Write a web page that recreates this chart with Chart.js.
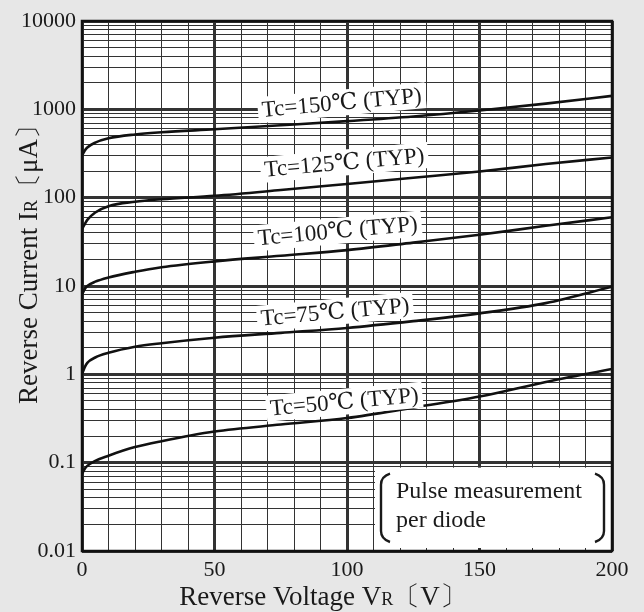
<!DOCTYPE html>
<html>
<head>
<meta charset="utf-8">
<script src="https://cdn.jsdelivr.net/npm/chart.js@4.4.1/dist/chart.umd.min.js"></script>
<style>
html, body { margin: 0; padding: 0; background: #e7e7e7; }
#wrap { width: 644px; height: 612px; position: relative; }
</style>
</head>
<body>
<div id="wrap"><canvas id="chart"></canvas></div>
<script>
// reverse voltage (V) sample points, shared by all curves
const voltages   = [0, 1, 2, 5, 10, 20, 30, 50, 75, 100, 125, 150, 175, 200];
// reverse current (uA)
const current150 = [300, 340, 370, 420, 470, 520, 550, 595, 660, 735, 830, 970, 1160, 1420];
const current125 = [44, 50, 56, 68, 80, 90, 96, 105, 122, 143, 168, 198, 240, 285];
const current100 = [8, 9.2, 10, 11.2, 12.5, 14.5, 16.3, 19, 22, 25.5, 31, 38, 48, 60];
const current75  = [1.0, 1.2, 1.35, 1.55, 1.75, 2.05, 2.25, 2.6, 2.95, 3.35, 4.0, 4.9, 6.4, 9.8];
const current50  = [0.075, 0.085, 0.092, 0.105, 0.12, 0.15, 0.175, 0.225, 0.27, 0.32, 0.42, 0.56, 0.82, 1.15];

const seriesNames = ['Tc=150℃ (TYP)', 'Tc=125℃ (TYP)', 'Tc=100℃ (TYP)', 'Tc=75℃ (TYP)', 'Tc=50℃ (TYP)'];
const seriesData  = [current150, current125, current100, current75, current50];

// where each curve name sits (V, uA)
const nameAtV  = [98, 99, 96.5, 95.5, 99];
const nameAtUA = [1190, 250, 42, 5.1, 0.49];

const yDecades    = [0.01, 0.1, 1, 10, 100, 1000, 10000];
const yTickLabels = ['0.01', '0.1', '1', '10', '100', '1000', '10000'];
const xMajorTicks = [0, 50, 100, 150, 200];
const noteLines   = ['Pulse measurement', 'per diode'];

const SERIF = '"Liberation Serif", "DejaVu Serif", serif';
const INK = '#1a1a1a';

function isDecade(v)
{
	const l = Math.log10(v);
	return Math.abs(l - Math.round(l)) < 1e-6;
}

function drawRuns(ctx, runs, x, y)
{
	let total = 0;
	runs.forEach(r => {
		ctx.font = r.size + 'px ' + SERIF;
		r.w = ctx.measureText(r.text).width;
		total += r.w;
	});
	let cx = x - total / 2;
	ctx.textAlign = 'left';
	ctx.textBaseline = 'alphabetic';
	runs.forEach(r => {
		ctx.font = r.size + 'px ' + SERIF;
		ctx.fillText(r.text, cx, y);
		cx += r.w;
	});
}

const frame = {
	id: 'frame',
	beforeDraw(chart)
	{
		const { ctx, chartArea: a } = chart;
		ctx.save();
		ctx.fillStyle = '#e7e7e7';
		ctx.fillRect(0, 0, chart.width, chart.height);
		ctx.fillStyle = '#ffffff';
		ctx.fillRect(a.left, a.top, a.right - a.left, a.bottom - a.top);
		ctx.restore();
	},
	afterDatasetsDraw(chart)
	{
		const { ctx, chartArea: a } = chart;
		const xs = chart.scales.x, ys = chart.scales.y;
		ctx.save();

		// curve names on white patches
		ctx.font = '23px ' + SERIF;
		ctx.textAlign = 'center';
		ctx.textBaseline = 'middle';
		seriesNames.forEach((name, i) => {
			const px = xs.getPixelForValue(nameAtV[i]);
			const py = ys.getPixelForValue(nameAtUA[i]);
			const w = ctx.measureText(name).width;
			ctx.save();
			ctx.translate(px, py);
			ctx.rotate(-0.09);
			ctx.fillStyle = '#ffffff';
			ctx.fillRect(-w / 2 - 4, -13, w + 8, 26);
			ctx.fillStyle = INK;
			ctx.fillText(name, 0, 1);
			ctx.restore();
		});

		// measurement note box
		const bx0 = xs.getPixelForValue(110) + 1.5;
		const bx1 = a.right - 1;
		const by0 = ys.getPixelForValue(0.1) + 5;
		const by1 = ys.getPixelForValue(0.01) - 3;
		ctx.fillStyle = '#ffffff';
		ctx.fillRect(bx0, by0, bx1 - bx0, by1 - by0);

		ctx.strokeStyle = INK;
		ctx.lineWidth = 2.4;
		const t = by0 + 6, b = by1 - 6;
		const lx = bx0 + 6, rx = bx1 - 7;
		ctx.beginPath();
		ctx.moveTo(lx + 9, t);
		ctx.quadraticCurveTo(lx, t + 3, lx, t + 11);
		ctx.lineTo(lx, b - 11);
		ctx.quadraticCurveTo(lx, b - 3, lx + 9, b);
		ctx.moveTo(rx - 9, t);
		ctx.quadraticCurveTo(rx, t + 3, rx, t + 11);
		ctx.lineTo(rx, b - 11);
		ctx.quadraticCurveTo(rx, b - 3, rx - 9, b);
		ctx.stroke();

		ctx.fillStyle = INK;
		ctx.font = '24px ' + SERIF;
		ctx.textAlign = 'left';
		ctx.textBaseline = 'middle';
		ctx.fillText(noteLines[0], lx + 15, by0 + 24);
		ctx.fillText(noteLines[1], lx + 15, by0 + 53);

		// plot border
		ctx.lineWidth = 2.5;
		ctx.strokeStyle = '#111';
		ctx.strokeRect(a.left, a.top, a.right - a.left, a.bottom - a.top);
		ctx.restore();
	},
	afterDraw(chart)
	{
		const ctx = chart.ctx;
		ctx.save();
		ctx.fillStyle = INK;
		drawRuns(ctx, [
			{ text: 'Reverse Voltage V', size: 27 },
			{ text: 'R', size: 18 },
			{ text: '〔V〕', size: 27 }
		], 323, 605);
		ctx.translate(37, 258);
		ctx.rotate(-Math.PI / 2);
		drawRuns(ctx, [
			{ text: 'Reverse Current I', size: 27 },
			{ text: 'R', size: 18 },
			{ text: '〔μA〕', size: 27 }
		], 0, 0);
		ctx.restore();
	}
};

const datasets = seriesData.map((vals, i) => ({
	label: seriesNames[i],
	data: voltages.map((v, k) => ({ x: v, y: vals[k] })),
	borderColor: '#111',
	borderWidth: 2.6,
	pointRadius: 0,
	fill: false,
	cubicInterpolationMode: 'monotone'
}));

new Chart(document.getElementById('chart'), {
	type: 'line',
	data: { datasets: datasets },
	plugins: [frame],
	options: {
		responsive: true,
		maintainAspectRatio: false,
		animation: false,
		layout: { padding: { left: 0, top: 21, right: 32, bottom: 0 } },
		plugins: {
			legend: { display: false },
			tooltip: { enabled: false }
		},
		scales: {
			x: {
				type: 'linear',
				min: 0,
				max: 200,
				afterFit: (s) => { s.height = 61; },
				ticks: {
					stepSize: 10,
					autoSkip: false,
					maxRotation: 0,
					padding: 6,
					color: INK,
					font: { family: SERIF, size: 22 },
					callback: (v) => xMajorTicks.includes(v) ? String(v) : ''
				},
				grid: {
					drawTicks: false,
					color: '#333',
					lineWidth: (c) => (c.tick && c.tick.value % 50 === 0) ? 3 : 1
				},
				border: { display: false }
			},
			y: {
				type: 'logarithmic',
				min: yDecades[0],
				max: yDecades[yDecades.length - 1],
				afterFit: (s) => { s.width = 82; },
				afterBuildTicks: (s) => {
					const ticks = [];
					for (let i = 0; i < yDecades.length - 1; i++)
						for (let m = 1; m <= 9; m++)
							ticks.push({ value: yDecades[i] * m });
					ticks.push({ value: yDecades[yDecades.length - 1] });
					s.ticks = ticks;
				},
				ticks: {
					autoSkip: false,
					padding: 6,
					color: INK,
					font: { family: SERIF, size: 22 },
					callback: (v) => {
						if (!isDecade(v))
							return '';
						return yTickLabels[Math.round(Math.log10(v)) + 2];
					}
				},
				grid: {
					drawTicks: false,
					color: '#333',
					lineWidth: (c) => (c.tick && isDecade(c.tick.value)) ? 3 : 1
				},
				border: { display: false }
			}
		}
	}
});
</script>
</body>
</html>
